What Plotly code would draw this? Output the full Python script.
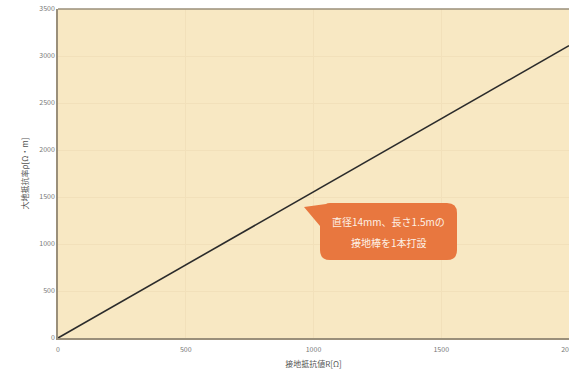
import plotly.graph_objects as go

# Data
resistance_R = [0, 2000]          # 接地抵抗値 R [Ω]
resistivity_rho = [0, 3110]       # 大地抵抗率 ρ [Ω・m]
x_ticks = [0, 500, 1000, 1500, 2000]
y_ticks = [0, 500, 1000, 1500, 2000, 2500, 3000, 3500]
callout_lines = ["直径14mm、長さ1.5mの", "接地棒を1本打設"]

W, H = 569, 370
L, R_, T, B = 58, 0, 9, 32
XR = [0, 2000]
YR = [0, 3500]

def px2x(px):
    return XR[0] + (px - L) / (W - L - R_) * (XR[1] - XR[0])

def py2y(py):
    return YR[0] + (H - B - py) / (H - B - T) * (YR[1] - YR[0])

fig = go.Figure()
fig.add_trace(go.Scatter(x=resistance_R, y=resistivity_rho, mode="lines",
                         line=dict(color="#2b2b2b", width=1.6), showlegend=False))

# callout path (pixel -> data coords)
bx0, bx1, by0, by1, r = 320, 457, 203, 260, 10
tip = (304, 207)
pts = [
    ("M", bx0 + r, by0),
    ("L", bx1 - r, by0),
    ("Q", bx1, by0, bx1, by0 + r),
    ("L", bx1, by1 - r),
    ("Q", bx1, by1, bx1 - r, by1),
    ("L", bx0 + r, by1),
    ("Q", bx0, by1, bx0, by1 - r),
    ("L", bx0, 226),
    ("L", tip[0], tip[1]),
    ("L", bx0 + 6, by0 + 1),
    ("Q", bx0 + 7, by0, bx0 + r, by0),
]
parts = []
for p in pts:
    cmd = p[0]
    coords = p[1:]
    s = " ".join(f"{px2x(coords[i]):.3f},{py2y(coords[i+1]):.3f}" for i in range(0, len(coords), 2))
    parts.append(f"{cmd} {s}")
path = " ".join(parts) + " Z"
fig.add_shape(type="path", path=path, xref="x", yref="y",
              fillcolor="#E8773F", line=dict(width=0), layer="above")

for line_text, py in zip(callout_lines, [221, 242]):
    fig.add_annotation(x=px2x((bx0 + bx1) / 2), y=py2y(py), xref="x", yref="y",
                       text=line_text, showarrow=False,
                       font=dict(color="#fdf1e6", size=10, family="Noto Sans CJK JP"),
                       align="center")

# top border (no right border visible in reference)
fig.add_shape(type="line", xref="paper", yref="paper", x0=0, x1=1, y0=1, y1=1,
              line=dict(color="#9a8f7a", width=1.5), layer="above")

axis_common = dict(showline=True, linecolor="#9a8f7a", linewidth=1.5,
                   gridcolor="#f2e0ba", gridwidth=1, zeroline=False,
                   tickfont=dict(size=7, color="#777777", family="Noto Sans CJK JP"),
                   ticks="", mirror=False, automargin=False)

fig.update_xaxes(range=XR, tickvals=x_ticks, ticklabeloverflow="allow", **axis_common,
                 title=dict(text="接地抵抗値R[Ω]", font=dict(size=8, color="#555555", family="Noto Sans CJK JP"), standoff=8))
fig.update_yaxes(range=YR, tickvals=y_ticks, **axis_common,
                 title=dict(text="大地抵抗率ρ[Ω・m]", font=dict(size=8, color="#555555", family="Noto Sans CJK JP"), standoff=10))

fig.update_layout(width=W, height=H, margin=dict(l=L, r=R_, t=T, b=B, autoexpand=False),
                  plot_bgcolor="#F8E8C3", paper_bgcolor="white",
                  font=dict(family="Noto Sans CJK JP"),
                  xaxis_ticklabelstandoff=4)

fig.write_html("out.html")
